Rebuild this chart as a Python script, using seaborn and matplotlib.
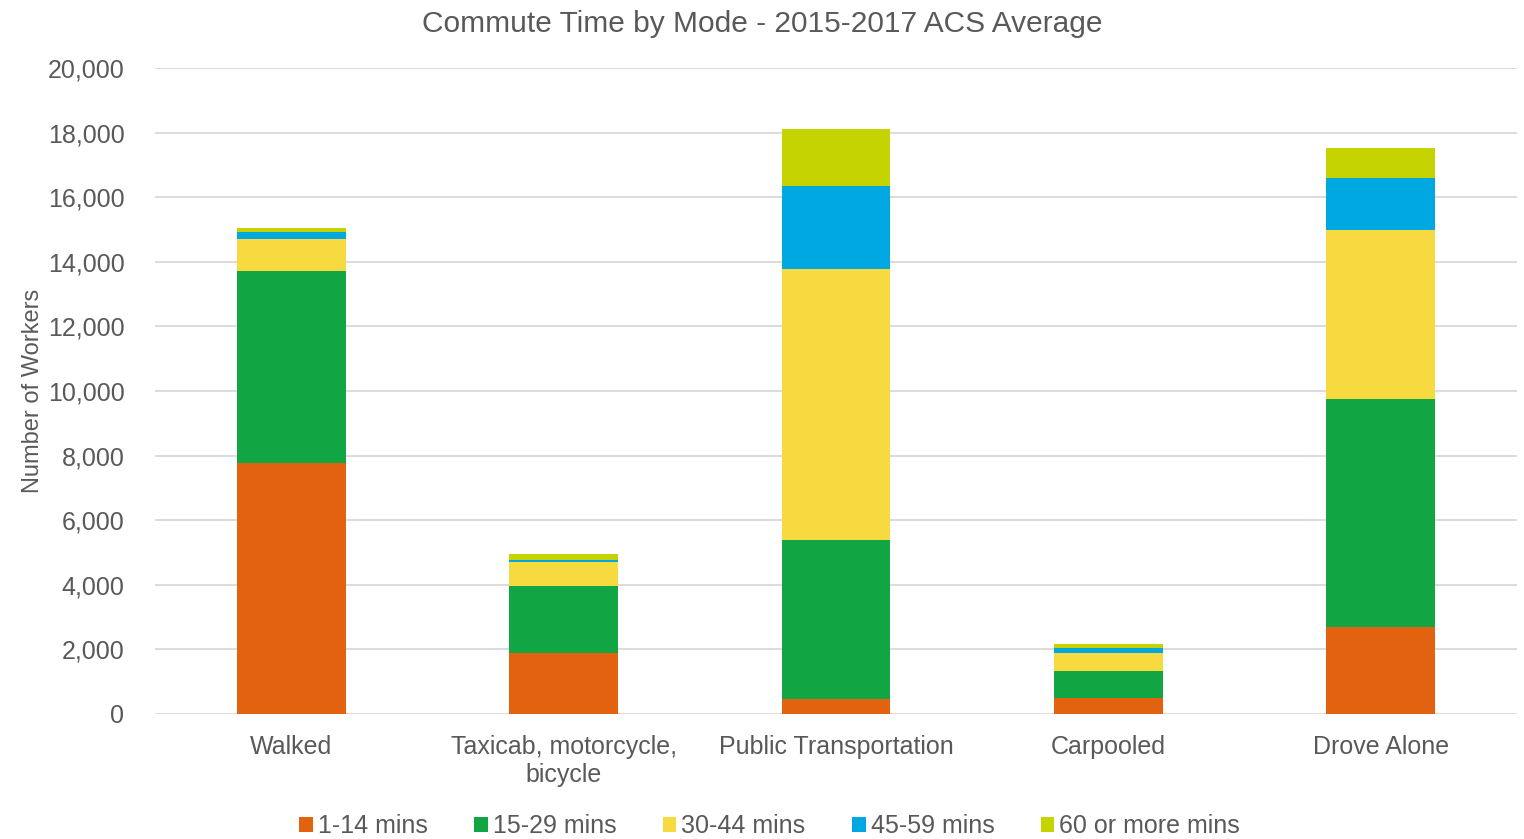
import numpy as np
import pandas as pd
import matplotlib
matplotlib.use("Agg")
import matplotlib.pyplot as plt
from matplotlib.patches import Patch
import seaborn as sns

modes = ["Walked", "Taxicab, motorcycle,\nbicycle", "Public Transportation", "Carpooled", "Drove Alone"]
bands = ["1-14 mins", "15-29 mins", "30-44 mins", "45-59 mins", "60 or more mins"]

mins_1_14 = [7770, 1890, 460, 500, 2690]
mins_15_29 = [5950, 2070, 4930, 830, 7060]
mins_30_44 = [990, 750, 8390, 560, 5230]
mins_45_59 = [210, 60, 2570, 150, 1610]
mins_60_plus = [130, 180, 1760, 130, 930]

colors = ["#E36210", "#11A543", "#F7D940", "#00A8E2", "#C5D300"]
text_color = "#595959"

sns.set_theme(style="white")
plt.rcParams["font.family"] = ["Liberation Sans", "DejaVu Sans"]

series = [mins_1_14, mins_15_29, mins_30_44, mins_45_59, mins_60_plus]
cum = np.cumsum(np.array(series), axis=0)

fig = plt.figure(figsize=(15.24, 8.39), dpi=100)
ax = fig.add_axes([0.1017, 0.149, 0.8937, 0.770])

# stacked bars: draw cumulative totals from the top band down
for i in range(len(bands) - 1, -1, -1):
    df = pd.DataFrame({"mode": modes, "value": cum[i]})
    sns.barplot(data=df, x="mode", y="value", color=colors[i], width=0.40,
                saturation=1, ax=ax, zorder=3, linewidth=0)

ax.set_ylim(0, 20000)
ax.set_yticks(np.arange(0, 20001, 2000))
ax.set_yticklabels([f"{v:,}" for v in range(0, 20001, 2000)])
ax.yaxis.grid(True, color="#D9D9D9", linewidth=1.3, zorder=0)
ax.set_axisbelow(True)
for s in ax.spines.values():
    s.set_visible(False)
ax.tick_params(axis="both", length=0, labelsize=18, labelcolor=text_color)
ax.tick_params(axis="y", pad=22)
ax.tick_params(axis="x", pad=15)
ax.set_xlabel("")
ax.set_ylabel("Number of Workers", fontsize=17, color=text_color, labelpad=3)
ax.set_xlim(-0.5, 4.5)

fig.suptitle("Commute Time by Mode - 2015-2017 ACS Average", fontsize=21.5,
             color=text_color, y=0.988)

handles = [Patch(facecolor=c, edgecolor="none") for c in colors]
fig.legend(handles, bands, loc="lower center", bbox_to_anchor=(0.505, -0.026), ncol=5,
           frameon=False, fontsize=18, labelcolor=text_color,
           handlelength=0.55, handleheight=0.55, handletextpad=0.2, columnspacing=1.85)

fig.savefig("out.png", dpi=100)
